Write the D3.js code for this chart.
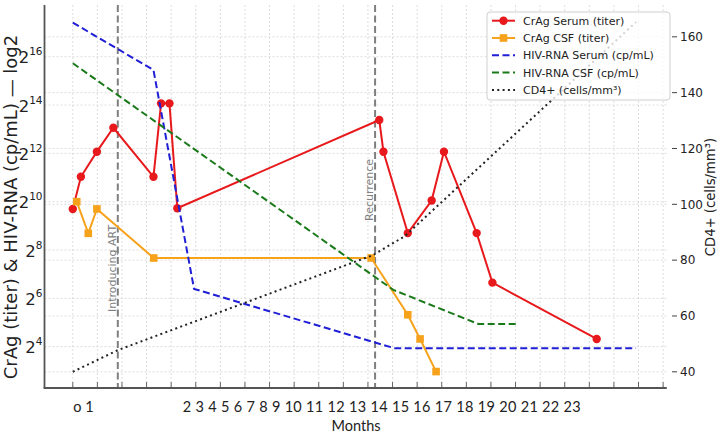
<!DOCTYPE html>
<html>
<head>
<meta charset="utf-8">
<script src="https://d3js.org/d3.v7.min.js"></script>
<style>
  body { margin: 0; background: #fff; }
  svg { display: block; }
</style>
</head>
<body>
<script>
// values: months on x, CrAg / HIV-RNA as log2 exponents, CD4+ in cells/mm3
var serumMonths = [0, 0.33, 0.98, 1.65, 3.28, 3.59, 3.93, 4.25, 12.46, 12.63, 13.62, 14.59, 15.09, 16.42, 17.06, 21.3];
var serumLog2 = [9.7, 11.03, 12.07, 13.06, 11.03, 14.07, 14.07, 9.73, 13.38, 12.07, 8.7, 10.05, 12.07, 8.7, 6.65, 4.32];

var csfMonths = [0.16, 0.63, 0.98, 3.29, 12.13, 13.62, 14.12, 14.77];
var csfLog2 = [10.0, 8.69, 9.7, 7.67, 7.67, 5.32, 4.32, 2.97];

var hivSerumMonths = [0, 3.28, 4.93, 13.1, 22.9];
var hivSerumLog2 = [17.41, 15.45, 6.39, 3.93, 3.93];

var hivCsfMonths = [0, 13.03, 16.49, 18.05];
var hivCsfLog2 = [15.73, 6.35, 4.94, 4.94];

var cd4Months = [0, 1.84, 12.2, 13.5, 22.9];
var cd4Counts = [40, 47.8, 81.8, 88.6, 165.3];

var eventMonths = [1.83, 12.29];
var eventLabels = ["Introducing ART", "Recurrence"];

var monthTicks = [0, 1, 2, 3, 4, 5, 6, 7, 8, 9, 10, 11, 12, 13, 14, 15, 16, 17, 18, 19, 20, 21, 22, 23, 24];
var leftTicks = [4, 6, 8, 10, 12, 14, 16];
var rightTicks = [40, 60, 80, 100, 120, 140, 160];
var monthLabelsA = ["o", "1"];
var monthLabelsB = ["2", "3", "4", "5", "6", "7", "8", "9", "10", "11", "12", "13", "14", "15", "16", "17", "18", "19", "20", "21", "22", "23"];

var seriesNames = ["CrAg Serum (titer)", "CrAg CSF (titer)", "HIV-RNA Serum (cp/mL)", "HIV-RNA CSF (cp/mL)", "CD4+ (cells/mm³)"];

(function () {
  var W = 717, H = 436;
  var pL = 44.5, pR = 666.8, pT = 5, pB = 388;

  var svg = d3.select("body").append("svg").attr("width", W).attr("height", H);

  var x = d3.scaleLinear().domain([-1.15, 24.15]).range([pL, pR]);
  var yL = d3.scaleLinear().domain([2.29, 18.14]).range([pB, pT]);
  var yR = d3.scaleLinear().domain([34.2, 171.4]).range([pB, pT]);

  var zip = function (a, b) { return a.map(function (v, i) { return [v, b[i]]; }); };

  // grid
  var grid = svg.append("g").attr("stroke", "#d4d4d4").attr("stroke-width", 0.8).attr("stroke-dasharray", "2,2");
  grid.selectAll(".gx").data(monthTicks).enter().append("line")
    .attr("x1", d => x(d)).attr("x2", d => x(d)).attr("y1", pT).attr("y2", pB);
  grid.selectAll(".gl").data(leftTicks).enter().append("line")
    .attr("x1", pL).attr("x2", pR).attr("y1", d => yL(d)).attr("y2", d => yL(d));
  grid.selectAll(".gr").data(rightTicks).enter().append("line")
    .attr("x1", pL).attr("x2", pR).attr("y1", d => yR(d)).attr("y2", d => yR(d));

  // event lines + labels
  svg.append("g").selectAll("text").data(eventMonths).enter().append("text")
    .attr("transform", d => "translate(" + (x(d) - 2) + "," + (d < 5 ? 312 : 221) + ") rotate(-90)")
    .attr("font-family", "DejaVu Sans").attr("font-size", 11).attr("fill", "#808080")
    .text((d, i) => eventLabels[i]);
  svg.append("g").selectAll("line").data(eventMonths).enter().append("line")
    .attr("x1", d => x(d)).attr("x2", d => x(d)).attr("y1", pT).attr("y2", pB)
    .attr("stroke", "#7f7f7f").attr("stroke-width", 2).attr("stroke-dasharray", "7,3.5");

  var line = function (yScale) { return d3.line().x(d => x(d[0])).y(d => yScale(d[1])); };

  var serum = zip(serumMonths, serumLog2);
  var csf = zip(csfMonths, csfLog2);

  svg.append("path").datum(serum).attr("d", line(yL))
    .attr("fill", "none").attr("stroke", "#e8191c").attr("stroke-width", 2);
  svg.append("g").selectAll("circle").data(serum).enter().append("circle")
    .attr("cx", d => x(d[0])).attr("cy", d => yL(d[1])).attr("r", 4.2).attr("fill", "#e8191c");

  svg.append("path").datum(csf).attr("d", line(yL))
    .attr("fill", "none").attr("stroke", "#f7a21b").attr("stroke-width", 2);
  svg.append("g").selectAll("rect").data(csf).enter().append("rect")
    .attr("x", d => x(d[0]) - 3.8).attr("y", d => yL(d[1]) - 3.8).attr("width", 7.6).attr("height", 7.6)
    .attr("fill", "#f7a21b");

  svg.append("path").datum(zip(hivSerumMonths, hivSerumLog2)).attr("d", line(yL))
    .attr("fill", "none").attr("stroke", "#1f1fd6").attr("stroke-width", 2).attr("stroke-dasharray", "7,3.5");
  svg.append("path").datum(zip(hivCsfMonths, hivCsfLog2)).attr("d", line(yL))
    .attr("fill", "none").attr("stroke", "#1a7a1a").attr("stroke-width", 2).attr("stroke-dasharray", "7,3.5");
  svg.append("path").datum(zip(cd4Months, cd4Counts)).attr("d", line(yR))
    .attr("fill", "none").attr("stroke", "#222").attr("stroke-width", 2).attr("stroke-dasharray", "2,3.3");

  // spines
  svg.append("line").attr("x1", pL).attr("x2", pL).attr("y1", pT).attr("y2", pB)
    .attr("stroke", "#555").attr("stroke-width", 1.8);
  svg.append("line").attr("x1", pL - 0.9).attr("x2", pR).attr("y1", pB).attr("y2", pB)
    .attr("stroke", "#555").attr("stroke-width", 1.8);

  // bottom ticks (inside)
  svg.append("g").selectAll("line").data(monthTicks).enter().append("line")
    .attr("x1", d => x(d)).attr("x2", d => x(d)).attr("y1", pB - 6).attr("y2", pB - 1)
    .attr("stroke", "#666").attr("stroke-width", 1);

  // month labels (drawn as in the source, not tick-aligned)
  svg.append("text").attr("x", x(0.02)).attr("y", 411.5)
    .attr("font-family", "Lato").attr("font-size", 14.5).attr("fill", "#222")
    .text(monthLabelsA.join(" "));
  svg.append("text").attr("x", x(4.47)).attr("y", 411.5)
    .attr("font-family", "Lato").attr("font-size", 14.5).attr("fill", "#222")
    .attr("textLength", x(20.65) - x(4.47)).attr("lengthAdjust", "spacing")
    .text(monthLabelsB.join(" "));
  svg.append("text").attr("x", 356).attr("y", 431).attr("text-anchor", "middle")
    .attr("font-family", "Lato").attr("font-size", 14.5).attr("fill", "#222").text("Months");

  // left ticks 2^n
  var lt = svg.append("g").selectAll("text").data(leftTicks).enter().append("text")
    .attr("text-anchor", "end").attr("x", pL - 2).attr("y", d => yL(d) + 6.5)
    .attr("font-family", "DejaVu Sans").attr("fill", "#222");
  lt.append("tspan").attr("font-size", 16.5).text("2");
  lt.append("tspan").attr("font-size", 10.5).attr("dy", -8).text(d => d);

  svg.append("text").attr("transform", "translate(16.5,207) rotate(-90)").attr("text-anchor", "middle")
    .attr("font-family", "DejaVu Sans").attr("font-size", 18).attr("fill", "#222")
    .text("CrAg (titer) & HIV-RNA (cp/mL) — log2");

  // right ticks
  var rt = svg.append("g").selectAll("g").data(rightTicks).enter().append("g")
    .attr("transform", d => "translate(0," + yR(d) + ")");
  rt.append("line").attr("x1", 672).attr("x2", 677).attr("stroke", "#444").attr("stroke-width", 1);
  rt.append("text").attr("x", 680).attr("dy", "0.35em")
    .attr("font-family", "DejaVu Sans").attr("font-size", 12).attr("fill", "#222").text(d => d);

  svg.append("text").attr("transform", "translate(714.5,197) rotate(-90)").attr("text-anchor", "middle")
    .attr("font-family", "DejaVu Sans").attr("font-size", 13.2).attr("fill", "#222")
    .text("CD4+ (cells/mm³)");

  // legend
  var lg = svg.append("g").attr("transform", "translate(487,12)");
  lg.append("rect").attr("width", 183).attr("height", 88).attr("rx", 3)
    .attr("fill", "#fff").attr("fill-opacity", 0.8).attr("stroke", "#cfcfcf");
  var colors = ["#e8191c", "#f7a21b", "#1f1fd6", "#1a7a1a", "#222"];
  var dashes = [null, null, "7,3.5", "7,3.5", "2,3.3"];
  var rows = lg.selectAll(".row").data(seriesNames).enter().append("g")
    .attr("transform", (d, i) => "translate(0," + (8.7 + i * 17.3) + ")");
  rows.append("line").attr("x1", 5).attr("x2", 28)
    .attr("stroke", (d, i) => colors[i]).attr("stroke-width", 2).attr("stroke-dasharray", (d, i) => dashes[i]);
  rows.filter((d, i) => i === 0).append("circle").attr("cx", 16.5).attr("r", 4.2).attr("fill", colors[0]);
  rows.filter((d, i) => i === 1).append("rect").attr("x", 12.7).attr("y", -3.8).attr("width", 7.6).attr("height", 7.6).attr("fill", colors[1]);
  rows.append("text").attr("x", 36).attr("dy", "0.36em")
    .attr("font-family", "DejaVu Sans").attr("font-size", 11).attr("fill", "#222").text(d => d);
})();
</script>
</body>
</html>
